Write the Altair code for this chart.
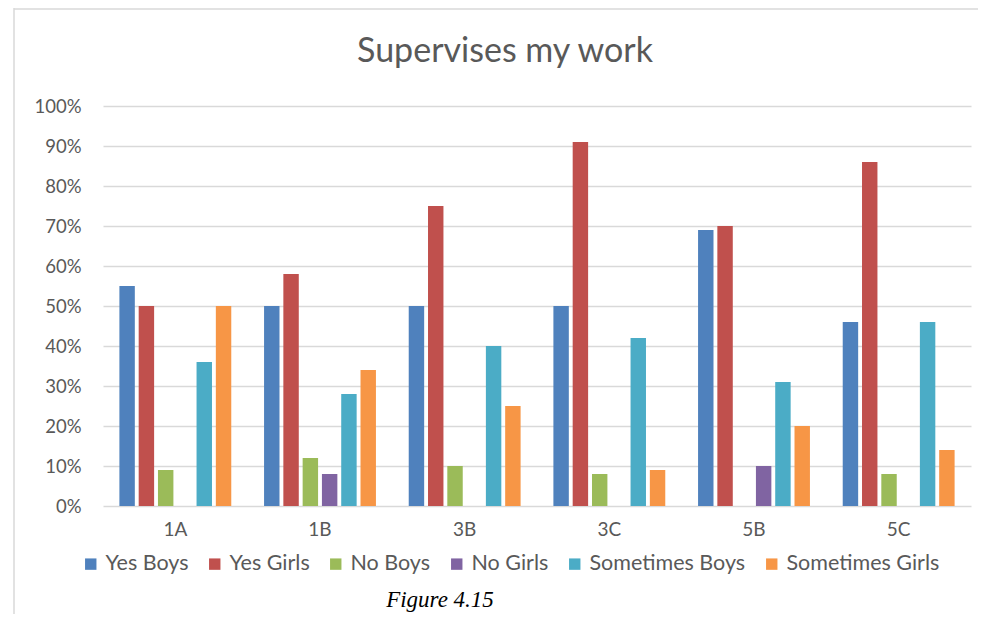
import altair as alt
import pandas as pd

classes = ["1A", "1B", "3B", "3C", "5B", "5C"]
series = ["Yes Boys", "Yes Girls", "No Boys", "No Girls", "Sometimes Boys", "Sometimes Girls"]
colors = ["#4F81BD", "#C0504D", "#9BBB59", "#8064A2", "#4BACC6", "#F79646"]

yes_boys = [55, 50, 50, 50, 69, 46]
yes_girls = [50, 58, 75, 91, 70, 86]
no_boys = [9, 12, 10, 8, 0, 8]
no_girls = [0, 8, 0, 0, 10, 0]
some_boys = [36, 28, 40, 42, 31, 46]
some_girls = [50, 34, 25, 9, 20, 14]

y_ticks = [0, 10, 20, 30, 40, 50, 60, 70, 80, 90, 100]

rows = []
for s, vals in zip(series, [yes_boys, yes_girls, no_boys, no_girls, some_boys, some_girls]):
    for c, v in zip(classes, vals):
        rows.append({"cls": c, "series": s, "value": v})
df = pd.DataFrame(rows)

FONT = "Lato"
GREY = "#595959"

bars = alt.Chart(df).mark_bar().encode(
    x=alt.X("cls:N", sort=classes, title=None,
            scale=alt.Scale(paddingInner=0.2, paddingOuter=0.1),
            axis=alt.Axis(labelAngle=0, labelFontSize=19, labelColor=GREY, labelFont=FONT,
                          ticks=False, domain=False, labelPadding=14, grid=False)),
    xOffset=alt.XOffset("series:N", sort=series,
                        scale=alt.Scale(paddingInner=0.2, paddingOuter=0.1)),
    y=alt.Y("value:Q", title=None,
            scale=alt.Scale(domain=[0, 100], nice=False),
            axis=alt.Axis(values=y_ticks, labelExpr="datum.value + '%'", labelFontSize=18.5,
                          labelColor=GREY, labelFont=FONT, ticks=False, domain=False,
                          labelPadding=22, gridColor="#d9d9d9", gridWidth=1.5)),
    color=alt.Color("series:N", sort=series, title=None,
                    scale=alt.Scale(domain=series, range=colors),
                    legend=alt.Legend(orient="none", legendX=-23, legendY=447,
                                      direction="horizontal", symbolType="square",
                                      symbolSize=130, symbolStrokeWidth=0,
                                      labelFontSize=21.5, labelColor=GREY, labelFont=FONT,
                                      labelOffset=4, columnPadding=15)),
)

title = alt.Chart(pd.DataFrame({"t": ["Supervises my work"]})).mark_text(
    font=FONT, fontSize=34, color=GREY, align="center", baseline="middle"
).encode(x=alt.value(402), y=alt.value(-54), text="t:N")

caption = alt.Chart(pd.DataFrame({"t": ["Figure 4.15"]})).mark_text(
    font="Liberation Serif", fontStyle="italic", fontSize=23, color="#000000",
    align="center", baseline="middle"
).encode(x=alt.value(337), y=alt.value(494), text="t:N")

border_left = alt.Chart(pd.DataFrame({"a": [0]})).mark_rule(color="#d9d9d9", strokeWidth=1.5).encode(
    x=alt.value(-89), y=alt.value(-98), y2=alt.value(520))
border_top = alt.Chart(pd.DataFrame({"a": [0]})).mark_rule(color="#d9d9d9", strokeWidth=1.5).encode(
    x=alt.value(-89), x2=alt.value(920), y=alt.value(-97))

chart = alt.layer(border_left, border_top, bars, title, caption).properties(
    width=868, height=400,
    autosize=alt.AutoSizeParams(type="none"),
    padding={"left": 95, "top": 98, "right": 7, "bottom": 108},
).configure_view(stroke=None)

chart.save("out.html", embed_options={"renderer": "svg", "actions": False})
